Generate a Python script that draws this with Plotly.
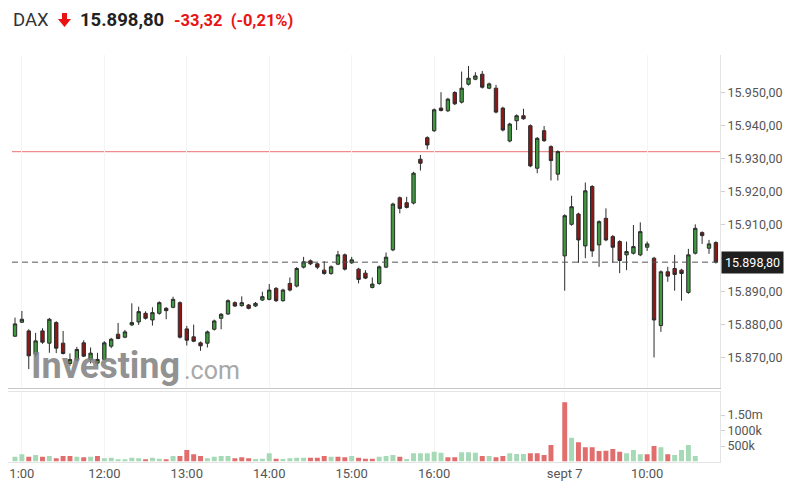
import plotly.graph_objects as go

# the page body has an 8px margin: the figure is sized to fit inside the window
OFF = 8
W, H = 793 - 2 * OFF, 501 - 2 * OFF
def px(x): return (x - OFF) / W
def py(y): return 1 - (y - OFF) / H

# ---------------- data ----------------
day1 = ["06 %02d:%02d" % divmod(m, 60) for m in range(10*60+55, 17*60+31, 5)]
day2 = ["07 %02d:%02d" % divmod(m, 60) for m in range(9*60, 10*60+51, 5)]
times = day1 + day2

opens = [15876.5, 15880.7, 15878.1, 15871.1, 15878.1, 15874.4, 15880.6, 15874.4, 15868.3, 15869.3,
         15874.5, 15869.5, 15868.4, 15869.5, 15873.5, 15877.1, 15876.2, 15879.9, 15880.8, 15883.4,
         15881.4, 15883.4, 15884.9, 15885.2, 15886.6, 15878.7, 15876.3, 15874.5, 15874.4, 15878.6,
         15881.9, 15883.2, 15886.6, 15885.7, 15885.9, 15885.6, 15887.4, 15887.6, 15890.9, 15887.2,
         15892.4, 15891.6, 15897.3, 15899.2, 15898.3, 15896.4, 15895.4, 15898.2, 15901.0, 15898.6,
         15896.7, 15895.5, 15891.2, 15892.4, 15897.3, 15902.5, 15918.2, 15916.7, 15916.6, 15929.8,
         15936.3, 15938.4, 15945.2, 15944.4, 15949.9, 15947.0, 15952.4, 15953.9, 15955.4, 15951.2,
         15951.2, 15945.2, 15935.3, 15941.4, 15942.9, 15939.9, 15927.1, 15938.4, 15933.6, 15925.3,
         15900.7, 15910.2, 15913.3, 15903.7, 15921.6, 15904.0, 15912.0, 15906.5, 15905.0, 15901.0,
         15901.5, 15901.0, 15903.3, 15900.0, 15879.7, 15895.9, 15896.9, 15896.4, 15889.7, 15901.5,
         15907.7, 15903.0, 15904.7]
highs = [15882.1, 15884.1, 15878.6, 15877.5, 15878.9, 15882.0, 15881.0, 15878.1, 15871.3, 15873.3,
         15875.3, 15873.1, 15871.5, 15875.0, 15876.0, 15880.5, 15878.4, 15886.4, 15885.4, 15884.0,
         15885.2, 15887.0, 15885.3, 15888.4, 15887.0, 15879.6, 15880.0, 15874.9, 15878.2, 15881.5,
         15883.5, 15887.6, 15887.0, 15888.5, 15886.2, 15886.8, 15889.9, 15892.2, 15891.3, 15890.8,
         15894.2, 15897.3, 15900.4, 15899.6, 15898.6, 15899.1, 15897.8, 15902.2, 15901.4, 15900.4,
         15897.1, 15896.4, 15894.2, 15897.8, 15901.7, 15916.7, 15918.6, 15918.5, 15926.0, 15931.1,
         15936.7, 15945.1, 15950.0, 15948.3, 15950.3, 15956.2, 15957.9, 15956.0, 15956.4, 15952.9,
         15952.2, 15945.6, 15940.8, 15943.3, 15945.0, 15940.3, 15936.5, 15939.8, 15934.0, 15932.5,
         15913.2, 15918.8, 15913.7, 15922.8, 15922.0, 15911.4, 15915.0, 15907.0, 15905.4, 15905.0,
         15910.0, 15910.8, 15905.0, 15900.4, 15896.3, 15897.4, 15901.0, 15896.8, 15902.8, 15910.2,
         15908.1, 15905.5, 15905.1]
lows = [15876.3, 15880.5, 15866.6, 15870.3, 15874.2, 15871.5, 15871.4, 15871.0, 15867.5, 15869.0,
        15870.2, 15868.3, 15867.5, 15869.2, 15872.9, 15875.6, 15875.9, 15879.6, 15879.9, 15881.5,
        15879.7, 15883.0, 15881.6, 15884.9, 15875.8, 15873.7, 15874.7, 15872.1, 15873.1, 15878.2,
        15878.6, 15882.9, 15885.3, 15885.4, 15884.6, 15885.3, 15887.1, 15887.3, 15886.8, 15886.9,
        15890.0, 15891.2, 15896.9, 15897.9, 15896.7, 15895.0, 15895.0, 15897.9, 15896.3, 15898.3,
        15892.4, 15893.7, 15890.9, 15892.0, 15897.0, 15902.1, 15913.5, 15915.0, 15916.2, 15926.4,
        15932.8, 15938.0, 15944.2, 15944.0, 15946.1, 15946.6, 15952.0, 15953.6, 15951.1, 15950.9,
        15943.6, 15938.2, 15934.9, 15938.6, 15941.7, 15927.4, 15925.6, 15935.0, 15923.4, 15923.4,
        15890.2, 15909.8, 15898.6, 15900.0, 15900.4, 15897.4, 15905.1, 15898.6, 15895.5, 15896.4,
        15901.1, 15900.6, 15902.2, 15870.1, 15877.8, 15892.9, 15890.2, 15887.2, 15889.3, 15901.1,
        15904.3, 15901.3, 15898.4]
closes = [15880.2, 15881.6, 15870.6, 15875.1, 15874.7, 15881.6, 15872.9, 15871.3, 15869.5, 15872.5,
          15870.5, 15871.4, 15869.5, 15874.5, 15875.6, 15875.8, 15877.8, 15880.6, 15883.9, 15881.9,
          15883.6, 15886.6, 15884.2, 15887.6, 15876.2, 15875.3, 15875.0, 15873.6, 15877.8, 15881.1,
          15883.1, 15887.2, 15885.6, 15886.6, 15884.9, 15886.4, 15888.4, 15890.4, 15887.2, 15890.4,
          15890.4, 15896.9, 15898.9, 15898.3, 15897.3, 15895.4, 15897.4, 15901.0, 15896.7, 15899.5,
          15893.6, 15894.0, 15892.2, 15897.4, 15900.3, 15916.3, 15915.0, 15915.3, 15925.6, 15928.6,
          15934.1, 15944.7, 15944.5, 15947.9, 15946.5, 15951.2, 15954.2, 15954.9, 15951.5, 15952.5,
          15944.0, 15938.6, 15940.4, 15942.9, 15942.0, 15927.8, 15936.1, 15935.4, 15929.4, 15932.1,
          15912.8, 15915.5, 15905.5, 15920.3, 15902.2, 15911.0, 15905.5, 15903.3, 15899.3, 15902.0,
          15903.5, 15908.0, 15904.3, 15881.4, 15895.9, 15894.6, 15895.1, 15895.4, 15901.0, 15909.0,
          15906.8, 15904.3, 15898.8]

volume_k = [156, 231, 156, 210, 156, 177, 102, 177, 177, 156,
            134, 156, 177, 102, 124, 70, 70, 124, 102, 70,
            124, 91, 70, 177, 177, 371, 231, 177, 102, 156,
            177, 177, 102, 134, 102, 81, 91, 263, 91, 81,
            102, 124, 124, 124, 124, 177, 156, 156, 134, 177,
            124, 91, 91, 156, 177, 210, 156, 81, 263, 263,
            263, 317, 285, 134, 134, 296, 296, 285, 177, 177,
            134, 177, 263, 242, 242, 263, 263, 210, 532, None,
            1909, 769, 618, 457, 457, 339, 349, 403, 317, 263,
            371, 231, 231, 500, 457, 231, 210, 371, 532, 177,
            None, None, None]
volume_dir = list("ggrgrgrrrg" "rgrggggggr" "ggrgrrrrgg" "ggrrrgggrg" "gggrrrgrrg"
                  "rrrgggrggg" "gggrrgggrg" "rrgggrrrrr" "rgrrrrrrrg" "ggrrgrgggg" "ggg")

prev_close = 15932.12
last_price = 15898.80

price_ticks = [15870, 15880, 15890, 15900, 15910, 15920, 15930, 15940, 15950]
price_tick_text = ["15.870,00", "15.880,00", "15.890,00", "", "15.910,00",
                   "15.920,00", "15.930,00", "15.940,00", "15.950,00"]
vol_ticks = [500000, 1000000, 1500000]
vol_tick_text = ["500k", "1000k", "1.50m"]
x_tick_vals = ["06 11:00", "06 12:00", "06 13:00", "06 14:00", "06 15:00", "06 16:00",
               "07 09:00", "07 10:00"]
x_tick_text = ["1:00", "12:00", "13:00", "14:00", "15:00", "16:00", "sept 7", "10:00"]

# ---------------- figure ----------------
GREEN_VOL = "#a6d9b6"
RED_VOL = "#e26d6d"
vol_colors = [GREEN_VOL if d == "g" else RED_VOL for d in volume_dir]
volumes = [None if v is None else v * 1000 for v in volume_k]

fig = go.Figure()
fig.add_trace(go.Candlestick(
    x=times, open=opens, high=highs, low=lows, close=closes,
    increasing=dict(fillcolor="#3d9a3d", line=dict(color="#2b2b2b", width=1)),
    decreasing=dict(fillcolor="#8c1717", line=dict(color="#2b2b2b", width=1)),
    whiskerwidth=0, xaxis="x", yaxis="y", showlegend=False, hoverinfo="skip"))

fig.add_trace(go.Bar(
    x=times, y=volumes, marker=dict(color=vol_colors, line=dict(width=0)),
    width=0.72, xaxis="x2", yaxis="y2", showlegend=False, hoverinfo="skip"))

x0, x1 = px(8), px(720)
xr = [-1.02, len(times) - 0.4]

fig.update_layout(
    width=W, height=H, margin=dict(l=0, r=0, t=0, b=0, autoexpand=False),
    paper_bgcolor="white", plot_bgcolor="white",
    font=dict(family="Roboto, Arial, sans-serif", color="#555", size=12),
    xaxis=dict(domain=[x0, x1], type="category", range=xr, rangeslider=dict(visible=False),
               showticklabels=False, showgrid=True, gridcolor="#f4f4f4",
               tickvals=x_tick_vals, ticks="", automargin=False,
               showline=True, linecolor="#c8c8c8", linewidth=1, anchor="y", zeroline=False),
    yaxis=dict(domain=[py(388), py(55)], range=[15860.9, 15961.2], side="right",
               tickvals=price_ticks, ticktext=price_tick_text, ticks="outside", ticklen=4,
               tickcolor="#d0d0d0", showgrid=False, zeroline=False, automargin=False,
               showline=True, linecolor="#e4e4e4", linewidth=1,
               tickfont=dict(size=12.5, color="#555"), anchor="x"),
    xaxis2=dict(domain=[x0, x1], type="category", range=xr, matches="x",
                tickvals=x_tick_vals, ticktext=x_tick_text, ticks="", automargin=False,
                tickfont=dict(size=13, color="#555"), showgrid=True, gridcolor="#f4f4f4",
                showline=True, linecolor="#e4e4e4", linewidth=1, mirror=True, anchor="y2"),
    yaxis2=dict(domain=[py(461.5), py(392)], range=[0, 2242000], side="right",
                tickvals=vol_ticks, ticktext=vol_tick_text, ticks="outside", ticklen=4,
                tickcolor="#d0d0d0", showgrid=False, zeroline=False, automargin=False,
                showline=True, linecolor="#e4e4e4", linewidth=1,
                tickfont=dict(size=12.5, color="#555"), anchor="x2"),
    bargap=0.2,
)

# previous close line and current price line
fig.add_shape(type="line", xref="paper", yref="y", x0=px(12), x1=x1,
              y0=prev_close, y1=prev_close, layer="below",
              line=dict(color="#f28c8c", width=1.2))
fig.add_shape(type="line", xref="paper", yref="y", x0=px(12), x1=x1,
              y0=last_price, y1=last_price, line=dict(color="#555", width=1, dash="6px,4px"))

# current price tag
fig.add_annotation(xref="paper", yref="y", x=px(721), y=last_price, xanchor="left",
                   yanchor="middle", showarrow=False, text="15.898,80",
                   font=dict(size=12.5, color="white", family="Roboto"),
                   bgcolor="#1f1f1f", borderpad=3)

# watermark
fig.add_annotation(xref="paper", yref="paper", x=px(29), y=py(366), xanchor="left",
                   yanchor="middle", showarrow=False, text="<b>Investing</b>",
                   font=dict(size=36, color="#808080", family="Roboto"), opacity=0.85)
fig.add_annotation(xref="paper", yref="paper", x=px(182), y=py(370), xanchor="left",
                   yanchor="middle", showarrow=False, text=".com",
                   font=dict(size=25, color="#999", family="Roboto"), opacity=0.85)

# header
fig.add_annotation(xref="paper", yref="paper", x=px(11), y=py(20), xanchor="left",
                   yanchor="middle", showarrow=False, text="DAX",
                   font=dict(size=18.5, color="#333", family="Roboto"))
fig.add_annotation(xref="paper", yref="paper", x=px(78), y=py(20), xanchor="left",
                   yanchor="middle", showarrow=False, text="<b>15.898,80</b>",
                   font=dict(size=18.5, color="#222", family="Roboto"))
fig.add_annotation(xref="paper", yref="paper", x=px(172), y=py(20), xanchor="left",
                   yanchor="middle", showarrow=False, text="<b>-33,32  (-0,21%)</b>",
                   font=dict(size=16.5, color="#e81414", family="Roboto"))
# red down arrow icon
ax = [62, 67, 67, 71, 64.5, 58, 62]
ay = [13, 13, 19, 19, 27, 19, 19]
path = "M " + " L ".join("%.5f,%.5f" % (px(a), py(b)) for a, b in zip(ax, ay)) + " Z"
fig.add_shape(type="path", xref="paper", yref="paper", path=path,
              fillcolor="#e81414", line=dict(width=0))

fig.write_html("out.html")
